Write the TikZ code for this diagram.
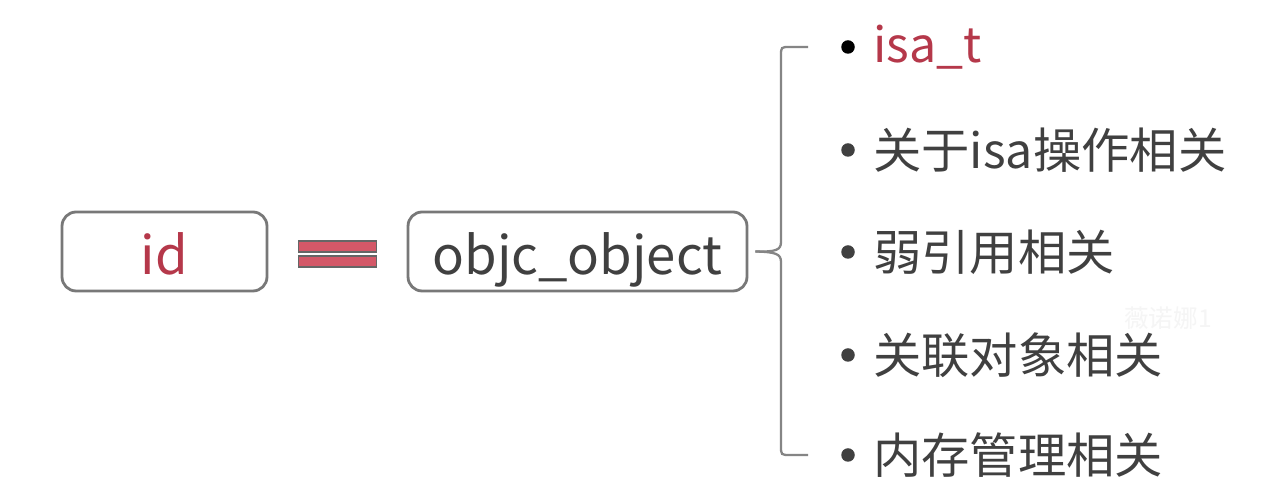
\documentclass[tikz,border=0pt]{standalone}
\usepackage{fontspec}
\setmainfont{Noto Sans CJK SC}
\usetikzlibrary{positioning, calc}
\definecolor{isared}{RGB}{181, 56, 74}
\definecolor{eqred}{RGB}{212, 88, 104}
\definecolor{textgray}{RGB}{64, 64, 64}
\definecolor{linegray}{RGB}{120, 120, 120}
\tikzset{
  box/.style={draw=linegray, line width=1.6pt, rounded corners=8pt, minimum height=1.58cm, inner sep=0pt,
    font=\fontsize{30}{33}\selectfont, text height=26pt, text depth=0pt},
  bar/.style={draw=black!60, fill=eqred, line width=1.1pt, minimum width=1.56cm, minimum height=0.21cm, inner sep=0pt},
  dot/.style={circle, fill=textgray, minimum size=0.27cm, inner sep=0pt},
  item/.style={anchor=west, text=textgray, font=\fontsize{27.5}{30}\selectfont, inner sep=0pt},
  brace/.style={draw=linegray!90, line width=1.3pt}
}

\begin{document}
\begin{tikzpicture}[x=0.02cm, y=-0.02cm]
        \useasboundingbox[fill=white] (0,0) rectangle (1279,502);
        % left side
        \node[box, minimum width=4.1cm, text=isared] (id) at (164.5, 251.5) {id};
        \node[box, minimum width=6.78cm, text=textgray] (objc) at (577.5, 251.5) {objc\_object};
        \node[bar] (eqtop) at (337.5, 246.5) {};
        \node[bar] (eqbot) at (337.5, 261.5) {};
        % list
        \node[dot, fill=black] (d1) at (848, 47) {};
        \node[dot] (d2) at (848, 150) {};
        \node[dot] (d3) at (848, 252) {};
        \node[dot] (d4) at (848, 355) {};
        \node[dot] (d5) at (848, 455) {};
        \node[item, text=isared] (t1) at (873, 47) {isa\_t};
        \node[item] (t2) at (873, 150) {关于isa操作相关};
        \node[item] (t3) at (873, 252) {弱引用相关};
        \node[item] (t4) at (873, 355) {关联对象相关};
        \node[item] (t5) at (873, 455) {内存管理相关};
        \node[text=black!4, font=\fontsize{14}{16}\selectfont] (mark) at (1168, 318) {薇诺娜1};
        % brace
        \coordinate (tip) at ($(objc.east)+(7,0)$);
        \coordinate (btop) at ($(d1)+(-40,0)$);
        \coordinate (bbot) at ($(d5)+(-40,0)$);
        \draw[brace] (btop) -- ++(-18,0) .. controls ++(-9,0) and (781,47) .. (781,56) -- (781,242)
          .. controls (781,250) and (776,252) .. (tip);
        \draw[brace] (bbot) -- ++(-18,0) .. controls ++(-9,0) and (781,455) .. (781,446) -- (781,262)
          .. controls (781,254) and (776,252) .. (tip);
      \end{tikzpicture}
\end{document}
